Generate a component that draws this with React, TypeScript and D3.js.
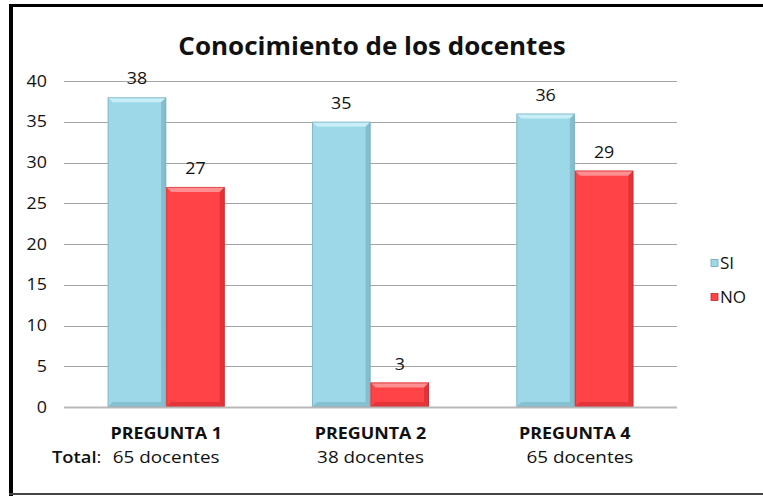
import React from "react";
import * as d3 from "d3";

const categories = ["PREGUNTA 1", "PREGUNTA 2", "PREGUNTA 4"];
const totals = ["65 docentes", "38 docentes", "65 docentes"];
const seriesNames = ["SI", "NO"];
const siValues = [38, 35, 36];
const noValues = [27, 3, 29];
const yTicks = [0, 5, 10, 15, 20, 25, 30, 35, 40];

const W = 763;
const H = 496;
const plot = { left: 64, right: 677, top: 81, bottom: 407 };
const colors = { SI: "#9dd8e8", NO: "#ff4347" };
const dark = { SI: "#6fa9b9", NO: "#c8282c" };
const light = { SI: "#c8eef7", NO: "#ff8f90" };

function T({ x, y, sx = 1.15, anchor = "start", size = 15, weight = "normal", children }: any) {
  return (
    <g transform={`translate(${x},${y}) scale(${sx},1)`}>
      <text x={0} y={0} textAnchor={anchor} fontSize={size} fontWeight={weight} fill="#111">
        {children}
      </text>
    </g>
  );
}

function Bar({ x, y, w, h, s }: { x: number; y: number; w: number; h: number; s: "SI" | "NO" }) {
  const b = Math.min(5, h / 2);
  return (
    <g>
      <rect x={x} y={y} width={w} height={h} fill={colors[s]} />
      <polygon points={`${x},${y} ${x + w},${y} ${x + w - b},${y + b} ${x + b},${y + b}`} fill={light[s]} />
      <polygon points={`${x + w},${y} ${x + w},${y + h} ${x + w - b},${y + h - b} ${x + w - b},${y + b}`} fill={dark[s]} opacity={0.55} />
      <polygon points={`${x},${y + h} ${x + w},${y + h} ${x + w - b},${y + h - b} ${x + b},${y + h - b}`} fill={dark[s]} opacity={0.5} />
      <rect x={x + 0.5} y={y + 0.5} width={w - 1} height={h - 1} fill="none" stroke={dark[s]} strokeOpacity={0.6} />
    </g>
  );
}

export default function App() {
  const x0 = d3.scaleBand().domain(categories).range([plot.left, plot.right]).padding(0);
  const y = d3.scaleLinear().domain([0, 40]).range([plot.bottom, plot.top]);
  const groupW = 117;
  const x1 = d3.scaleBand().domain(seriesNames).range([0, groupW]).padding(0);
  const font = "'Open Sans', sans-serif";
  const data = [siValues, noValues];

  return (
    <svg width={W} height={H} style={{ position: "absolute", left: 0, top: 0, background: "#fff" }} fontFamily={font}>
      <rect x={0} y={0} width={W} height={H} fill="#fff" />
      <T x={372} y={55} sx={1.04} anchor="middle" size={25} weight="bold">
        Conocimiento de los docentes
      </T>
      {yTicks.map((t) => (
        <g key={t}>
          {t > 0 && (
            <line x1={plot.left} x2={plot.right} y1={Math.round(y(t)) + 0.5} y2={Math.round(y(t)) + 0.5} stroke="#a4a4a4" strokeWidth={1} />
          )}
          <T x={47} y={y(t) + 5.5} anchor="end" size={15.5}>
            {t}
          </T>
        </g>
      ))}
      {categories.map((c, i) => {
        const gx = (x0(c) as number) + (x0.bandwidth() - groupW) / 2;
        return (
          <g key={c}>
            {seriesNames.map((s, j) => {
              const v = data[j][i];
              const bx = gx + (x1(s) as number);
              const by = y(v);
              return (
                <g key={s}>
                  <Bar x={bx} y={by} w={x1.bandwidth()} h={plot.bottom - by} s={s as "SI" | "NO"} />
                  <T x={bx + x1.bandwidth() / 2} y={by - 13} anchor="middle" size={15.5}>
                    {v}
                  </T>
                </g>
              );
            })}
          </g>
        );
      })}
      <line x1={plot.left} x2={plot.right} y1={plot.bottom + 0.5} y2={plot.bottom + 0.5} stroke="#b8b8b8" strokeWidth={2} />
      {categories.map((c, i) => {
        const cx = (x0(c) as number) + x0.bandwidth() / 2;
        return (
          <g key={c}>
            <T x={cx} y={439} sx={1.09} anchor="middle" size={16.4} weight="bold">
              {c}
            </T>
            <T x={cx + (i === 2 ? 5 : 0)} y={463} sx={1.11} anchor="middle" size={17}>
              {totals[i]}
            </T>
          </g>
        );
      })}
      <T x={52} y={463} sx={1.08} anchor="start" size={17}>
        <tspan fontWeight="600">Total</tspan>:
      </T>
      {seriesNames.map((s, j) => (
        <g key={s}>
          <rect x={711} y={259.5 + j * 34} width={7} height={7} fill={colors[s as "SI" | "NO"]} stroke={dark[s as "SI" | "NO"]} strokeWidth={0.8} />
          <T x={720} y={268.5 + j * 34} size={15.5} sx={1.1}>
            {s}
          </T>
        </g>
      ))}
      <line x1={9} x2={W} y1={5.5} y2={5.5} stroke="#000" strokeWidth={3} />
      <line x1={11} x2={11} y1={4} y2={H} stroke="#000" strokeWidth={4} />
      <line x1={9} x2={W} y1={494} y2={494} stroke="#444" strokeWidth={2} />
    </svg>
  );
}
